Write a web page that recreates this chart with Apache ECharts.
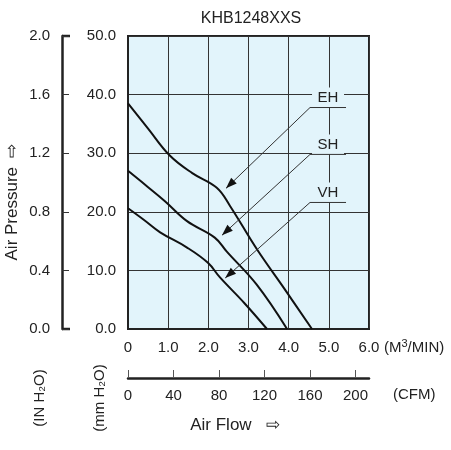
<!DOCTYPE html>
<html><head><meta charset="utf-8">
<script src="https://cdn.jsdelivr.net/npm/echarts@6/dist/echarts.min.js"></script>
<style>html,body{margin:0;padding:0;background:#fff}#c{width:451px;height:450px}</style>
</head><body><div id="c"></div>
<script>
// 风机性能曲线 (M3/MIN, mmH2O)
var curveEH = [[0,38.5],[0.5,34.2],[1.04,29.6],[1.6,26.6],[2.21,24.1],[2.54,21.0],[3.21,13.6],[3.9,6.8],[4.58,0]];
var curveSH = [[0,27.0],[0.5,24.2],[0.92,21.8],[1.47,18.4],[2.16,15.6],[2.46,13.2],[3.2,7.6],[3.96,0]];
var curveVH = [[0,20.6],[0.4,18.6],[0.8,16.5],[1.47,13.9],[1.99,11.3],[2.29,8.8],[2.9,4.4],[3.46,0]];
// 标注: 名称, 文字位置, 箭头所指点
var labelNames = ['EH','SH','VH'];
var labelAt = [[4.98,39.5],[4.98,31.5],[4.98,23.3]];
var arrowAt = [[2.44,24.0],[2.34,16.0],[2.42,8.7]];
var font = 'Liberation Sans, Arial, sans-serif';

var chart = echarts.init(document.getElementById('c'));
function line(data){
  return {type:'line',data:data,smooth:0.4,symbol:'none',xAxisIndex:0,yAxisIndex:0,
    lineStyle:{color:'#111',width:2},z:5};
}
var axisTxt = {color:'#222',fontSize:15,fontFamily:font};
chart.setOption({
  animation:false,
  title:{text:'KHB1248XXS',left:246,top:6,textAlign:'center',
    textStyle:{fontSize:16,fontWeight:'normal',color:'#222',fontFamily:font}},
  grid:{left:128,top:36,right:82,bottom:121,show:true,backgroundColor:'#e2f4fb',borderColor:'#222',borderWidth:2},
  xAxis:[
    {type:'value',min:0,max:6,interval:1,position:'bottom',
     axisLine:{onZero:false,lineStyle:{color:'#222',width:2}},axisTick:{show:false},
     splitLine:{lineStyle:{color:'#333',width:1}},
     axisLabel:Object.assign({margin:11,formatter:function(v){return v===0?'0':v.toFixed(1);}},axisTxt)},
    {type:'value',min:0,max:211.9,interval:40,position:'bottom',offset:49,
     axisLine:{onZero:false,lineStyle:{color:'#222',width:2.5}},
     axisTick:{inside:true,length:8,lineStyle:{color:'#555'}},splitLine:{show:false},
     axisLabel:Object.assign({margin:10,showMaxLabel:false},axisTxt)}
  ],
  yAxis:[
    {type:'value',min:0,max:50,interval:10,position:'left',
     axisLine:{show:true,onZero:false,lineStyle:{color:'#222',width:2}},axisTick:{show:false},
     splitLine:{lineStyle:{color:'#333',width:1}},
     axisLabel:Object.assign({margin:12,formatter:function(v){return v.toFixed(1);}},axisTxt)},
    {type:'value',min:0,max:2.0,interval:0.4,position:'left',offset:66,
     axisLine:{show:true,onZero:false,lineStyle:{color:'#222',width:2.5}},
     axisTick:{show:true,inside:true,length:7,lineStyle:{color:'#333',width:1}},splitLine:{show:false},
     axisLabel:Object.assign({margin:12,formatter:function(v){return v.toFixed(1);}},axisTxt)}
  ],
  series:[line(curveEH),line(curveSH),line(curveVH)]
});

var g = [];
function txt(x,y,s,rot,size,align){
  g.push({type:'text',x:x,y:y,rotation:rot||0,style:{text:s,fill:'#222',font:(size||15)+'px '+font,
    align:align||'center',verticalAlign:'middle'}});
}
txt(12,202,'Air Pressure  \u21E8',Math.PI/2,17);
txt(40,398,'(IN H\u2082O)',Math.PI/2,15);
txt(100,398,'(mm H\u2082O)',Math.PI/2,15);
txt(235,425,'Air Flow   \u21E8',0,17);
g.push({type:'text',x:384,y:348,style:{text:'(M{s|3}/MIN)',fill:'#222',font:'15px '+font,verticalAlign:'middle',
  rich:{s:{fontSize:11,fontFamily:font,verticalAlign:'top',padding:[0,0,9,0]}}}});
txt(393,395,'(CFM)',0,15,'left');
// 外侧轴两端的粗刻度
[0,2.0].forEach(function(v){
  var p = chart.convertToPixel({yAxisIndex:1},v);
  g.push({type:'line',shape:{x1:62,y1:p,x2:70,y2:p},style:{stroke:'#222',lineWidth:2.5}});
});
labelNames.forEach(function(n,i){
  var p = chart.convertToPixel({xAxisIndex:0,yAxisIndex:0},labelAt[i]);
  var a = chart.convertToPixel({xAxisIndex:0,yAxisIndex:0},arrowAt[i]);
  g.push({type:'rect',shape:{x:p[0]-16,y:p[1]-10,width:32,height:20},style:{fill:'#e2f4fb'},z:8});
  txt(p[0],p[1],n,0,15);
  g[g.length-1].z=9;
  var y0 = p[1]+10, x0 = p[0]-18, x1 = p[0]+18;
  g.push({type:'polyline',shape:{points:[[x1,y0],[x0,y0],[a[0],a[1]]]},style:{stroke:'#333',lineWidth:1,fill:null},z:9});
  var ang = Math.atan2(a[1]-y0,a[0]-x0), L=11, W=4;
  var bx = a[0]-L*Math.cos(ang), by = a[1]-L*Math.sin(ang);
  g.push({type:'polygon',shape:{points:[[a[0],a[1]],[bx+W*Math.sin(ang),by-W*Math.cos(ang)],[bx-W*Math.sin(ang),by+W*Math.cos(ang)]]},
    style:{fill:'#111'},z:9});
});
chart.setOption({graphic:g});
</script></body></html>
